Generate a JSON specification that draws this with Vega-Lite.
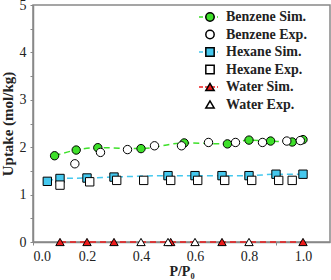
{
  "$schema": "https://vega.github.io/schema/vega-lite/v6.json",
  "width": 297,
  "height": 237,
  "autosize": {"type": "none"},
  "padding": {"left": 33, "top": 5, "right": 1, "bottom": 38},
  "background": "white",
  "data": {
    "values": [
      {"series": "Benzene Sim.", "x": 0.08, "y": 1.82},
      {"series": "Benzene Sim.", "x": 0.16, "y": 1.94},
      {"series": "Benzene Sim.", "x": 0.24, "y": 1.99},
      {"series": "Benzene Sim.", "x": 0.40, "y": 1.97},
      {"series": "Benzene Sim.", "x": 0.56, "y": 2.09},
      {"series": "Benzene Sim.", "x": 0.72, "y": 2.07},
      {"series": "Benzene Sim.", "x": 0.80, "y": 2.15},
      {"series": "Benzene Sim.", "x": 0.88, "y": 2.13},
      {"series": "Benzene Sim.", "x": 0.96, "y": 2.11},
      {"series": "Benzene Sim.", "x": 1.00, "y": 2.16},
      {"series": "Hexane Sim.", "x": 0.053, "y": 1.28},
      {"series": "Hexane Sim.", "x": 0.10, "y": 1.34},
      {"series": "Hexane Sim.", "x": 0.20, "y": 1.35},
      {"series": "Hexane Sim.", "x": 0.30, "y": 1.37},
      {"series": "Hexane Sim.", "x": 0.50, "y": 1.40},
      {"series": "Hexane Sim.", "x": 0.60, "y": 1.40},
      {"series": "Hexane Sim.", "x": 0.70, "y": 1.40},
      {"series": "Hexane Sim.", "x": 0.80, "y": 1.40},
      {"series": "Hexane Sim.", "x": 0.90, "y": 1.43},
      {"series": "Hexane Sim.", "x": 1.00, "y": 1.43},
      {"series": "Water Sim.", "x": 0.10, "y": 0},
      {"series": "Water Sim.", "x": 0.20, "y": 0},
      {"series": "Water Sim.", "x": 0.30, "y": 0},
      {"series": "Water Sim.", "x": 0.51, "y": 0},
      {"series": "Water Sim.", "x": 0.70, "y": 0},
      {"series": "Water Sim.", "x": 1.00, "y": 0},
      {"series": "Benzene Exp.", "x": 0.155, "y": 1.65},
      {"series": "Benzene Exp.", "x": 0.25, "y": 1.89},
      {"series": "Benzene Exp.", "x": 0.35, "y": 1.95},
      {"series": "Benzene Exp.", "x": 0.45, "y": 2.03},
      {"series": "Benzene Exp.", "x": 0.55, "y": 2.03},
      {"series": "Benzene Exp.", "x": 0.65, "y": 2.10},
      {"series": "Benzene Exp.", "x": 0.75, "y": 2.10},
      {"series": "Benzene Exp.", "x": 0.85, "y": 2.10},
      {"series": "Benzene Exp.", "x": 0.94, "y": 2.13},
      {"series": "Benzene Exp.", "x": 0.99, "y": 2.14},
      {"series": "Hexane Exp.", "x": 0.10, "y": 1.20},
      {"series": "Hexane Exp.", "x": 0.21, "y": 1.27},
      {"series": "Hexane Exp.", "x": 0.31, "y": 1.30},
      {"series": "Hexane Exp.", "x": 0.41, "y": 1.30},
      {"series": "Hexane Exp.", "x": 0.51, "y": 1.30},
      {"series": "Hexane Exp.", "x": 0.61, "y": 1.30},
      {"series": "Hexane Exp.", "x": 0.71, "y": 1.30},
      {"series": "Hexane Exp.", "x": 0.81, "y": 1.30},
      {"series": "Hexane Exp.", "x": 0.91, "y": 1.30},
      {"series": "Hexane Exp.", "x": 0.96, "y": 1.30},
      {"series": "Water Exp.", "x": 0.40, "y": 0},
      {"series": "Water Exp.", "x": 0.50, "y": 0},
      {"series": "Water Exp.", "x": 0.60, "y": 0},
      {"series": "Water Exp.", "x": 0.80, "y": 0}
    ]
  },
  "encoding": {
    "x": {
      "field": "x", "type": "quantitative",
      "scale": {"domain": [0, 1.1], "nice": false, "zero": false},
      "axis": {
        "title": "P/P₀",
        "values": [0, 0.1, 0.2, 0.3, 0.4, 0.5, 0.6, 0.7, 0.8, 0.9, 1.0],
        "format": ".1f",
        "labelExpr": "indexof(['0.0','0.2','0.4','0.6','0.8','1.0'], datum.label) >= 0 ? datum.label : ''",
        "labelPadding": 4,
        "titlePadding": 1,
        "titleFontSize": 14
      }
    },
    "y": {
      "field": "y", "type": "quantitative",
      "scale": {"domain": [0, 5], "nice": false},
      "axis": {
        "title": "Uptake (mol/kg)",
        "values": [0, 0.5, 1, 1.5, 2, 2.5, 3, 3.5, 4, 4.5, 5],
        "labelExpr": "datum.value % 1 === 0 ? format(datum.value, 'd') : ''",
        "labelPadding": 4,
        "titlePadding": 4
      }
    }
  },
  "layer": [
    {
      "transform": [{"filter": "indexof(datum.series, 'Sim') >= 0"}],
      "mark": {"type": "line", "strokeDash": [6, 4], "strokeWidth": 1.5, "interpolate": "monotone"},
      "encoding": {
        "stroke": {
          "field": "series", "type": "nominal",
          "scale": {
            "domain": ["Benzene Sim.", "_b", "Hexane Sim.", "_h", "Water Sim.", "_w"],
            "range": ["#3ee02a", "transparent", "#45c8ee", "transparent", "#ee1c1c", "transparent"]
          },
          "legend": {
            "title": null,
            "orient": "none",
            "legendX": 165,
            "legendY": 5,
            "padding": 0,
            "symbolType": "stroke",
            "symbolSize": 361,
            "symbolStrokeWidth": 1.5,
            "symbolDash": [4, 2],
            "clipHeight": 14,
            "rowPadding": 3.5,
            "labelExpr": "''",
            "labelFont": "Times New Roman",
            "labelFontSize": 14,
            "labelFontWeight": "bold"
          }
        }
      }
    },
    {
      "mark": {"type": "point", "filled": true, "stroke": "black", "strokeWidth": 1, "size": 70, "opacity": 1},
      "encoding": {
        "shape": {
          "field": "series", "type": "nominal",
          "scale": {
            "domain": ["Benzene Sim.", "Benzene Exp.", "Hexane Sim.", "Hexane Exp.", "Water Sim.", "Water Exp."],
            "range": ["circle", "circle", "square", "square", "triangle-up", "triangle-up"]
          },
          "legend": {
            "title": null,
            "orient": "none",
            "legendX": 165,
            "legendY": 5,
            "padding": 0,
            "symbolSize": 70,
            "symbolOffset": 5,
            "labelOffset": 9,
            "clipHeight": 14,
            "rowPadding": 3.5,
            "labelFont": "Times New Roman",
            "labelFontSize": 14,
            "labelFontWeight": "bold",
            "labelColor": "#222",
            "encode": {"symbols": {"update": {"stroke": {"value": "black"}, "strokeWidth": {"value": 1}}}}
          }
        },
        "fill": {
          "field": "series", "type": "nominal",
          "scale": {
            "domain": ["Benzene Sim.", "Benzene Exp.", "Hexane Sim.", "Hexane Exp.", "Water Sim.", "Water Exp."],
            "range": ["#3ee02a", "white", "#45c8ee", "white", "#ee1c1c", "white"]
          },
          "legend": {
            "title": null,
            "orient": "none",
            "legendX": 165,
            "legendY": 5,
            "padding": 0,
            "symbolSize": 70,
            "symbolOffset": 5,
            "labelOffset": 9,
            "clipHeight": 14,
            "rowPadding": 3.5,
            "labelFont": "Times New Roman",
            "labelFontSize": 14,
            "labelFontWeight": "bold",
            "labelColor": "#222",
            "encode": {"symbols": {"update": {"stroke": {"value": "black"}, "strokeWidth": {"value": 1}}}}
          }
        }
      }
    }
  ],
  "config": {
    "font": "Times New Roman",
    "view": {"stroke": "#888", "strokeWidth": 1.5},
    "axis": {
      "grid": false,
      "domainColor": "#888",
      "domainWidth": 1.5,
      "tickColor": "#888",
      "tickSize": 3,
      "labelFont": "Times New Roman",
      "labelFontSize": 14,
      "labelColor": "#222",
      "titleFont": "Times New Roman",
      "titleFontSize": 15,
      "titleFontWeight": "bold",
      "titleColor": "#222"
    }
  }
}
